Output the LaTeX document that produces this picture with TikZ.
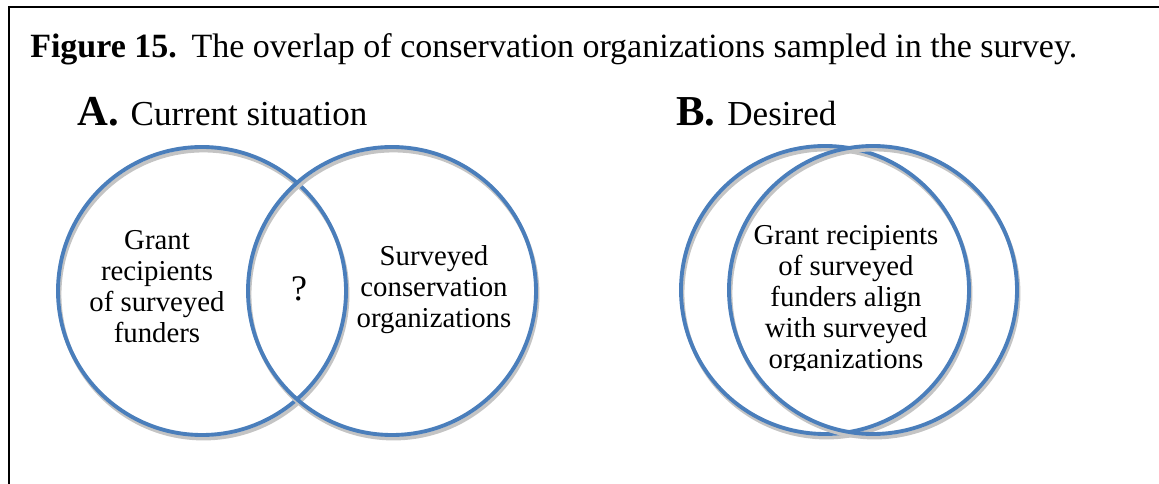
\documentclass[tikz,border=0pt]{standalone}
\usepackage{fontspec}
\setmainfont{Liberation Serif}

\definecolor{vennblue}{HTML}{4A7EBB}
\definecolor{vennshade}{HTML}{C4C4C4}

\tikzset{
  ring/.style={draw=vennblue,line width=2.9pt},
  ringshade/.style={draw=vennshade,line width=2.9pt},
  ringtext/.style={align=center,inner sep=0pt,
    font=\fontsize{21.6}{23.25}\selectfont},
  headtext/.style={anchor=base west,inner sep=0pt,
    font=\fontsize{26.3}{30}\selectfont},
}

\begin{document}
\begin{tikzpicture}[x=0.75pt,y=-0.75pt]
\useasboundingbox (0,0) rectangle (1159,484);

% frame (only top and left show)
\draw[line width=1.5pt] (9,490) -- (9,7) -- (1165,7);

\node[anchor=base west,inner sep=0pt,font=\fontsize{25.5}{30}\selectfont] (caption) at (30,58)
  {\textbf{Figure 15.}\hspace{11pt}The overlap of conservation organizations sampled in the survey.};

\node[headtext] (headA) at (77,126) {{\fontsize{32}{36}\selectfont\bfseries A.}\hspace{9pt}Current situation};
\node[headtext] (headB) at (676,126) {{\fontsize{32}{36}\selectfont\bfseries B.}\hspace{9pt}Desired};

% circles with soft shadow
\foreach \cx/\cy in {202/291, 392/291, 825/290, 873/290} {
  \draw[ringshade] (\cx+1.5,\cy+3.5) circle (144);
  \draw[ring] (\cx,\cy) circle (144);
}

\node[ringtext] (grant) at (157,287) {Grant\\recipients\\of surveyed\\funders};
\node[ringtext,font=\fontsize{27}{30}\selectfont] (overlap) at (299,289) {?};
\node[ringtext] (surveyed) at (434,290) {Surveyed\\conservation\\organizations};

\begin{scope}
  \clip (700,200) rectangle (1000,370);
  \node[ringtext] (aligned) at (846,300) {Grant recipients\\of surveyed\\funders align\\with surveyed\\organizations};
\end{scope}

\end{tikzpicture}
\end{document}
